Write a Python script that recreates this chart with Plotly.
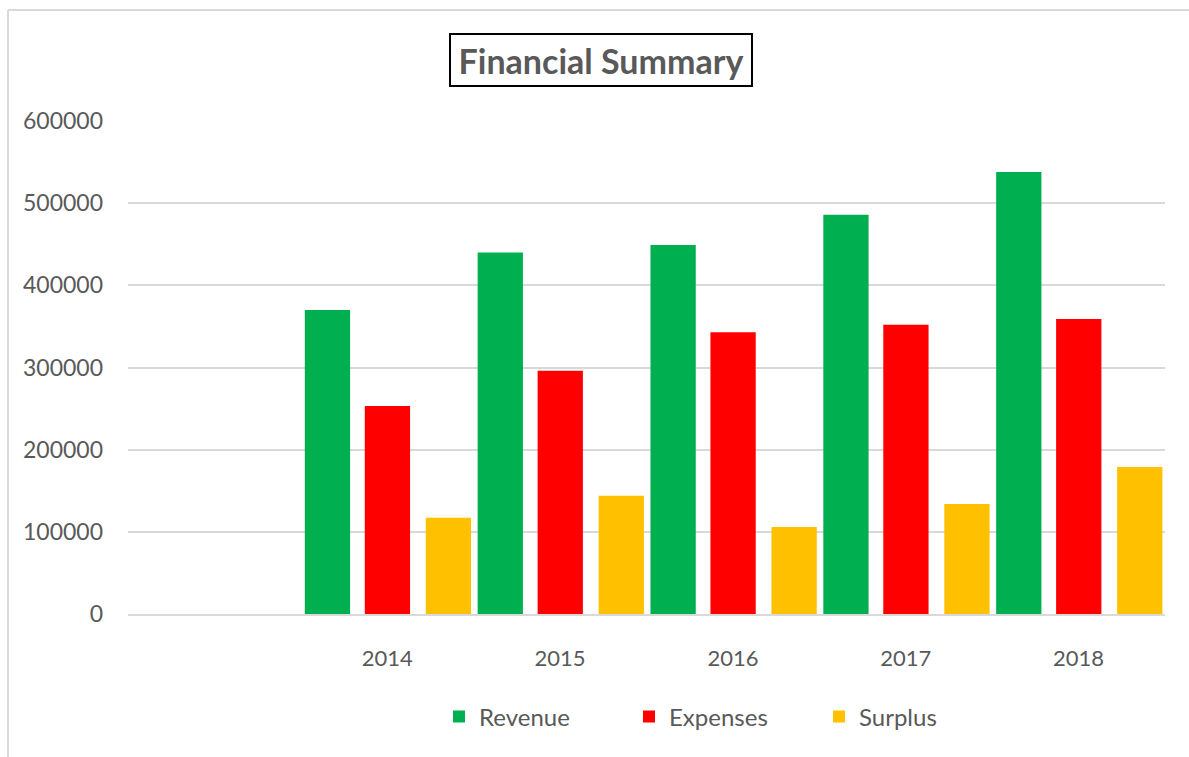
import plotly.graph_objects as go

years = ["2014", "2015", "2016", "2017", "2018"]
revenue = [370000, 440000, 449000, 486000, 538000]
expenses = [253000, 296000, 343000, 352000, 359000]
surplus = [117000, 144000, 106000, 134000, 179000]

W, H = 1189, 757
L, R, T, B = 128, 1165, 121, 614
PW, PH = R - L, B - T

def px(x):
    return (x - L) / PW

def py(y):
    return (B - y) / PH

FONT = "Lato"
GRAY = "#595959"

series = [
    ("Revenue", revenue, "#00B050", -0.477),
    ("Expenses", expenses, "#FF0000", -0.130),
    ("Surplus", surplus, "#FFC000", 0.223),
]

fig = go.Figure()
for name, vals, color, off in series:
    fig.add_trace(go.Bar(
        name=name, x=years, y=vals,
        marker=dict(color=color, line=dict(width=0)),
        offset=off, width=0.262,
    ))

fig.update_layout(
    width=W, height=H,
    margin=dict(l=L, r=W - R, t=T, b=H - B, autoexpand=False),
    paper_bgcolor="white", plot_bgcolor="white",
    barmode="overlay",
    font=dict(family=FONT, color=GRAY, size=22),
    showlegend=True,
    legend=dict(
        orientation="h", x=px(439), xanchor="left", y=py(717), yanchor="middle",
        font=dict(family=FONT, size=24, color=GRAY),
        entrywidth=145, entrywidthmode="pixels",
        traceorder="normal",
        bgcolor="rgba(0,0,0,0)",
    ),
    xaxis=dict(
        type="category", range=[-1.5, 4.5],
        showgrid=False, zeroline=False, showline=True,
        linecolor="#d9d9d9", linewidth=2,
        ticks="", ticklabelstandoff=24,
        tickfont=dict(family=FONT, size=22, color=GRAY),
        fixedrange=True,
    ),
    yaxis=dict(
        range=[0, 600000], dtick=100000, tickformat="d",
        showgrid=True, gridcolor="#d9d9d9", gridwidth=2,
        zeroline=False, showline=False,
        ticks="", ticklabelstandoff=24,
        tickfont=dict(family=FONT, size=23, color=GRAY),
        fixedrange=True,
    ),
    annotations=[dict(
        text="<b>Financial Summary</b>", xref="paper", yref="paper",
        x=px(601), y=py(60), xanchor="center", yanchor="middle",
        showarrow=False, font=dict(family=FONT, size=34, color=GRAY),
        bordercolor="black", borderwidth=2, width=298, height=48,
        bgcolor="white",
    )],
    shapes=[
        dict(type="line", xref="paper", yref="paper",
             x0=px(8), x1=px(1189), y0=py(10), y1=py(10),
             line=dict(color="#d9d9d9", width=2)),
        dict(type="line", xref="paper", yref="paper",
             x0=px(8), x1=px(8), y0=py(10), y1=py(757),
             line=dict(color="#d9d9d9", width=2)),
    ],
)

fig.write_html("out.html", config={"displayModeBar": False},
               post_script="document.body.style.margin='0';")
